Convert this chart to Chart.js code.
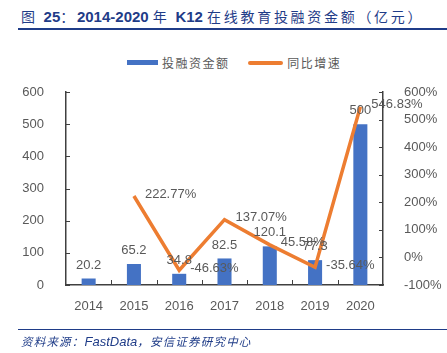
<!DOCTYPE html>
<html>
<head>
<meta charset="utf-8">
<script src="https://cdn.jsdelivr.net/npm/chart.js@4.4.1/dist/chart.umd.min.js"></script>
<style>
  body { margin: 0; background: #fff; }
  #wrap { position: relative; width: 447px; height: 353px; overflow: hidden; }
  #title { position: absolute; left: 21px; top: 6px; font: bold 15px "Liberation Sans", Arial, sans-serif; color: #1f3c88; white-space: nowrap; }
  #title .cn { font: 14px "Noto Sans CJK SC", sans-serif; letter-spacing: 2.7px; }
  #topline { position: absolute; left: 18px; right: 0; top: 28px; height: 2px; background: #1f3c88; }
  #botline { position: absolute; left: 18px; right: 0; top: 329px; height: 1px; background: #1f3c88; }
  #source { position: absolute; left: 21px; top: 333px; font: italic 13px "Liberation Sans", Arial, sans-serif; color: #1f3c88; white-space: nowrap; }
  #source .cn { font: italic 11.5px "Noto Sans CJK SC", sans-serif; letter-spacing: 1.2px; }
  #legend { position: absolute; top: 52px; left: 127px; font: 12px "Noto Sans CJK SC", sans-serif; color: #595959; white-space: nowrap; }
  #legend span.key { display: inline-block; vertical-align: middle; width: 31px; }
  #legend span.txt { vertical-align: middle; margin-left: 4px; letter-spacing: 1.5px; }
  canvas { position: absolute; left: 0; top: 0; }
</style>
</head>
<body>
<div id="wrap">
  <div id="title"><span class="cn">图 </span>25<span class="cn">：</span>2014-2020 <span class="cn">年 </span>K12 <span class="cn">在线教育投融资金额（亿元）</span></div>
  <div id="topline"></div>
  <div id="legend">
    <span class="key" style="height:5px;background:#4472c4"></span><span class="txt">投融资金额</span>
    <span class="key" style="height:4px;border-radius:2px;background:#ed7d31;margin-left:16px;width:35px"></span><span class="txt">同比增速</span>
  </div>
  <canvas id="myChart" width="447" height="353"></canvas>
  <div id="botline"></div>
  <div id="source"><span class="cn">资料来源：</span>FastData<span class="cn">，安信证券研究中心</span></div>
</div>
<script>
const years = ['2014', '2015', '2016', '2017', '2018', '2019', '2020'];
const funding = [20.2, 65.2, 34.8, 82.5, 120.1, 77.3, 500];            // 投融资金额 (亿元)
const growth = [null, 222.77, -46.63, 137.07, 45.58, -35.64, 546.83];   // 同比增速 (%)

const axisColor = '#404040';
const labelColor = '#595959';
const fontFamily = '"Liberation Sans", Arial, sans-serif';

// Plugin: data labels for bars and line, plus inward tick marks
const labelPlugin = {
    id: 'labels',
    afterDatasetsDraw(chart) {
        const ctx = chart.ctx;
        ctx.save();
        ctx.font = '13px ' + fontFamily;
        ctx.fillStyle = labelColor;

        // bar labels
        const barMeta = chart.getDatasetMeta(0);
        barMeta.data.forEach((bar, i) => {
            ctx.textAlign = 'center';
            ctx.textBaseline = 'bottom';
            ctx.fillText(String(funding[i]), bar.x, bar.y - 7);
        });

        // line labels
        const lineMeta = chart.getDatasetMeta(1);
        lineMeta.data.forEach((pt, i) => {
            if (growth[i] === null) return;
            ctx.textAlign = 'left';
            ctx.textBaseline = 'middle';
            ctx.fillText(growth[i].toFixed(2) + '%', pt.x + 11, pt.y - 2);
        });

        // tick marks (pointing inside the plot)
        const area = chart.chartArea;
        ctx.strokeStyle = axisColor;
        ctx.lineWidth = 1;
        const yL = chart.scales.y;
        yL.ticks.forEach((t, i) => {
            const y = Math.round(yL.getPixelForTick(i)) + 0.5;
            ctx.beginPath(); ctx.moveTo(area.left, y); ctx.lineTo(area.left + 4, y); ctx.stroke();
        });
        const yR = chart.scales.y1;
        yR.ticks.forEach((t, i) => {
            const y = Math.round(yR.getPixelForTick(i)) + 0.5;
            ctx.beginPath(); ctx.moveTo(area.right, y); ctx.lineTo(area.right - 4, y); ctx.stroke();
        });
        const step = (area.right - area.left) / years.length;
        for (let i = 1; i < years.length; i++) {
            const x = Math.round(area.left + step * i) + 0.5;
            ctx.beginPath(); ctx.moveTo(x, area.bottom); ctx.lineTo(x, area.bottom - 5); ctx.stroke();
        }
        ctx.restore();
    }
};

const ctx = document.getElementById('myChart').getContext('2d');
new Chart(ctx, {
    type: 'bar',
    data: {
        labels: years,
        datasets: [{
            label: '投融资金额',
            data: funding,
            backgroundColor: '#4472c4',
            categoryPercentage: 1.0,
            barPercentage: 0.31,
            yAxisID: 'y',
            order: 2
        }, {
            type: 'line',
            label: '同比增速',
            data: growth,
            borderColor: '#ed7d31',
            backgroundColor: '#ed7d31',
            borderWidth: 3.5,
            pointRadius: 0,
            tension: 0,
            yAxisID: 'y1',
            order: 1
        }]
    },
    options: {
        responsive: false,
        animation: false,
        layout: { padding: { top: 92, bottom: 38, left: 0, right: 0 } },
        plugins: {
            legend: { display: false },
            tooltip: { enabled: false }
        },
        scales: {
            x: {
                offset: true,
                grid: { display: false },
                border: { display: true, color: axisColor, width: 1.5 },
                ticks: { color: labelColor, font: { size: 13, family: fontFamily }, padding: 6 },
                afterFit: (scale) => { scale.height = 30; }
            },
            y: {
                position: 'left',
                min: 0, max: 600,
                ticks: { stepSize: 100, color: labelColor, font: { size: 13, family: fontFamily }, padding: 14 },
                grid: { display: false },
                border: { display: true, color: axisColor, width: 1.5 },
                afterFit: (scale) => { scale.width = 66; }
            },
            y1: {
                position: 'right',
                min: -100, max: 600,
                ticks: {
                    stepSize: 100, color: labelColor, font: { size: 13, family: fontFamily }, padding: 13,
                    callback: (v) => v + '%'
                },
                grid: { display: false },
                border: { display: true, color: axisColor, width: 1.5 },
                afterFit: (scale) => { scale.width = 64; }
            }
        }
    },
    plugins: [labelPlugin]
});
</script>
</body>
</html>
